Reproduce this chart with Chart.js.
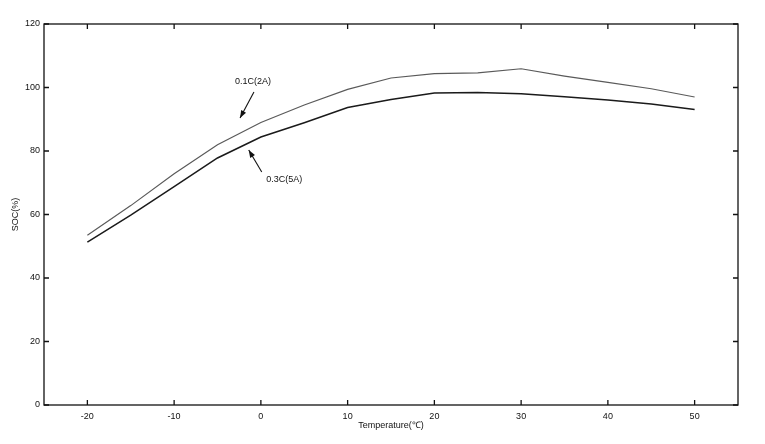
<!DOCTYPE html>
<html><head><meta charset="utf-8">
<script src="https://cdn.jsdelivr.net/npm/chart.js@4/dist/chart.umd.min.js"></script>
<style>html,body{margin:0;padding:0;background:#fff}#wrap{width:765px;height:444px;position:relative}</style>
</head><body><div id="wrap"><canvas id="c"></canvas></div>
<script>
const temperatures = [-20, -15, -10, -5, 0, 5, 10, 15, 20, 25, 30, 35, 40, 45, 50];
const soc01C = [53.5, 62.8, 72.8, 82.0, 89.0, 94.5, 99.4, 103.0, 104.4, 104.6, 105.9, 103.6, 101.6, 99.6, 97.0];
const soc03C = [51.3, 59.8, 68.8, 77.8, 84.4, 88.9, 93.7, 96.2, 98.3, 98.4, 98.0, 97.1, 96.1, 94.8, 93.1];
const xTicks = [-20, -10, 0, 10, 20, 30, 40, 50];
const yTicks = [0, 20, 40, 60, 80, 100, 120];
const annotations = [
  {text: '0.1C(2A)', tx: -0.9, ty: 101.8, ax0: -0.8, ay0: 98.6, ax1: -2.4, ay1: 90.4},
  {text: '0.3C(5A)', tx: 2.7, ty: 70.9, ax0: 0.1, ay0: 73.4, ax1: -1.4, ay1: 80.3}
];
const FONT = "'Liberation Sans Narrow','Liberation Sans',Arial,sans-serif";

const framePlugin = {
  id: 'frame',
  afterDatasetsDraw(chart) {
    const {ctx, chartArea: a, scales: {x, y}} = chart;
    ctx.save();
    ctx.strokeStyle = '#111';
    ctx.lineWidth = 1.3;
    ctx.strokeRect(a.left, a.top, a.right - a.left, a.bottom - a.top);
    const L = 5;
    ctx.beginPath();
    xTicks.forEach(v => {
      const px = x.getPixelForValue(v);
      ctx.moveTo(px, a.bottom); ctx.lineTo(px, a.bottom - L);
      ctx.moveTo(px, a.top); ctx.lineTo(px, a.top + L);
    });
    yTicks.forEach(v => {
      const py = y.getPixelForValue(v);
      ctx.moveTo(a.left, py); ctx.lineTo(a.left + L, py);
      ctx.moveTo(a.right, py); ctx.lineTo(a.right - L, py);
    });
    ctx.stroke();
    ctx.fillStyle = '#111';
    ctx.font = '9px ' + FONT;
    ctx.textAlign = 'center';
    ctx.textBaseline = 'middle';
    annotations.forEach(an => {
      ctx.fillText(an.text, x.getPixelForValue(an.tx), y.getPixelForValue(an.ty));
      const x0 = x.getPixelForValue(an.ax0), y0 = y.getPixelForValue(an.ay0);
      const x1 = x.getPixelForValue(an.ax1), y1 = y.getPixelForValue(an.ay1);
      ctx.lineWidth = 1.1;
      ctx.beginPath(); ctx.moveTo(x0, y0); ctx.lineTo(x1, y1); ctx.stroke();
      const ang = Math.atan2(y1 - y0, x1 - x0), h = 8, w = 0.35;
      ctx.beginPath();
      ctx.moveTo(x1, y1);
      ctx.lineTo(x1 - h * Math.cos(ang - w), y1 - h * Math.sin(ang - w));
      ctx.lineTo(x1 - h * Math.cos(ang + w), y1 - h * Math.sin(ang + w));
      ctx.closePath(); ctx.fill();
    });
    ctx.restore();
  }
};

new Chart(document.getElementById('c'), {
  type: 'line',
  data: {
    datasets: [
      {label: '0.1C(2A)', data: temperatures.map((t, i) => ({x: t, y: soc01C[i]})),
       borderColor: '#5a5a5a', borderWidth: 1.2, pointRadius: 0, tension: 0},
      {label: '0.3C(5A)', data: temperatures.map((t, i) => ({x: t, y: soc03C[i]})),
       borderColor: '#1a1a1a', borderWidth: 1.5, pointRadius: 0, tension: 0}
    ]
  },
  options: {
    responsive: true, maintainAspectRatio: false, animation: false,
    devicePixelRatio: 1,
    layout: {padding: {left: 10, right: 27, top: 24, bottom: 13}},
    plugins: {legend: {display: false}, tooltip: {enabled: false}},
    scales: {
      x: {
        type: 'linear', min: -25, max: 55,
        afterBuildTicks: s => { s.ticks = xTicks.map(v => ({value: v})); },
        afterFit: s => { s.height = 26; },
        grid: {display: false, drawTicks: false},
        border: {display: false},
        ticks: {color: '#111', font: {size: 9, family: FONT}, padding: 6, maxRotation: 0},
        title: {display: true, text: 'Temperature(℃)', color: '#111', font: {size: 9, family: FONT}, padding: {top: 0, bottom: 0}}
      },
      y: {
        type: 'linear', min: 0, max: 120,
        afterBuildTicks: s => { s.ticks = yTicks.map(v => ({value: v})); },
        afterFit: s => { s.width = 34; },
        grid: {display: false, drawTicks: false},
        border: {display: false},
        ticks: {color: '#111', font: {size: 9, family: FONT}, padding: 4},
        title: {display: true, text: 'SOC(%)', color: '#111', font: {size: 9, family: FONT}, padding: {top: 0, bottom: 0}}
      }
    }
  },
  plugins: [framePlugin]
});
</script></body></html>
